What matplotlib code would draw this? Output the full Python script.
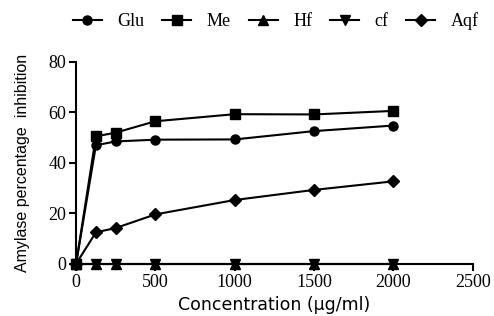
import matplotlib
matplotlib.use('Agg')
import matplotlib.pyplot as plt

conc = [0, 125, 250, 500, 1000, 1500, 2000]
glu = [0, 47.0, 48.5, 49.2, 49.3, 52.6, 54.8]
me = [0, 50.5, 52.0, 56.5, 59.3, 59.2, 60.6]
hf = [0, 0, 0, 0, 0, 0, 0]
cf = [0, 0, 0, 0, 0, 0, 0]
aqf = [0, 12.5, 14.2, 19.6, 25.3, 29.3, 32.7]

series = [('Glu', glu, 'o'), ('Me', me, 's'), ('Hf', hf, '^'),
          ('cf', cf, 'v'), ('Aqf', aqf, 'D')]

fig = plt.figure(figsize=(4.94, 3.16), dpi=100)
ax = fig.add_axes([0.154, 0.165, 0.803, 0.639])

for name, vals, mk in series:
    ms = 6.5 if mk != 'D' else 6
    ax.plot(conc, vals, color='black', marker=mk, markersize=ms, linewidth=1.5,
            label=name, clip_on=False, zorder=3)

ax.set_xlim(0, 2500)
ax.set_ylim(0, 80)
ax.set_xticks([0, 500, 1000, 1500, 2000, 2500])
ax.set_yticks([0, 20, 40, 60, 80])
for s in ['top', 'right']:
    ax.spines[s].set_visible(False)
for s in ['left', 'bottom']:
    ax.spines[s].set_linewidth(1.5)
ax.tick_params(direction='out', width=1.5, length=5, labelsize=13, pad=2)
for lbl in ax.get_xticklabels() + ax.get_yticklabels():
    lbl.set_fontfamily('Liberation Serif')

ax.set_xlabel('Concentration (µg/ml)', fontfamily='DejaVu Sans', fontsize=12.5, labelpad=4)
ax.set_ylabel('Amylase percentage  inhibition', fontfamily='Liberation Sans', fontsize=11.5, labelpad=13)

fig.legend(loc='upper left', bbox_to_anchor=(73 / 494, 0.962), ncol=5, frameon=False,
           prop={'family': 'Liberation Serif', 'size': 13}, handlelength=1.6,
           columnspacing=1.0, handletextpad=0.85, borderpad=0, borderaxespad=0)

plt.savefig('out.png', dpi=100)
